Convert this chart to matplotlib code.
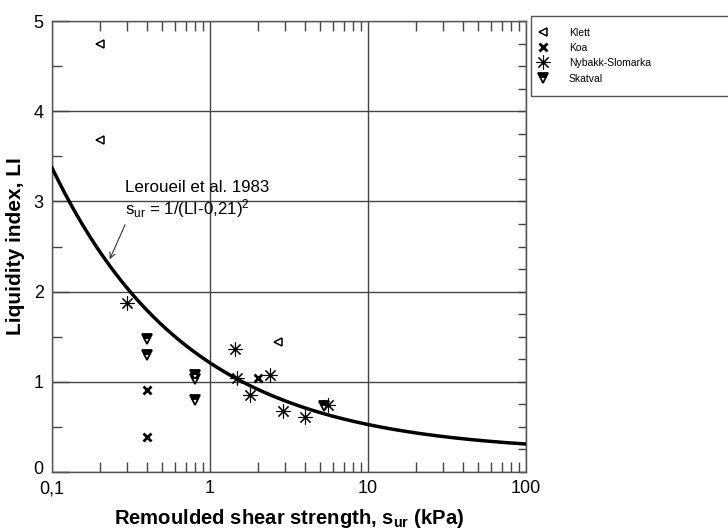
import numpy as np
import matplotlib
matplotlib.use("Agg")
import matplotlib.pyplot as plt
import matplotlib.transforms as mtransforms
from matplotlib.ticker import NullFormatter, MultipleLocator, LogLocator
from matplotlib.patches import Rectangle

plt.rcParams['font.family'] = ['Liberation Sans', 'DejaVu Sans']
plt.rcParams['mathtext.fontset'] = 'custom'
plt.rcParams['mathtext.rm'] = 'Liberation Sans'
plt.rcParams['mathtext.it'] = 'Liberation Sans'
plt.rcParams['mathtext.bf'] = 'Liberation Sans:bold'

# Data
klett_s = [0.2, 0.2, 2.7]
klett_li = [4.75, 3.68, 1.44]
koa_s = [0.4, 0.4, 2.0]
koa_li = [0.91, 0.39, 1.04]
nyb_s = [0.3, 1.45, 1.48, 1.8, 2.4, 2.9, 4.0, 5.6]
nyb_li = [1.87, 1.36, 1.04, 0.85, 1.07, 0.68, 0.61, 0.74]
skat_s = [0.4, 0.4, 0.8, 0.8, 0.8, 5.3]
skat_li = [1.47, 1.30, 1.08, 1.03, 0.80, 0.73]

curve_s = np.logspace(-1, 2, 300)
curve_li = 0.21 + 1 / np.sqrt(curve_s)

W, H = 728, 531
fig = plt.figure(figsize=(W/100, H/100), dpi=100)
L, R, T, B = 52, 526, 21, 472
ax = fig.add_axes([L/W, 1 - B/H, (R-L)/W, (B-T)/H])

ax.plot(curve_s, curve_li, color='black', lw=2.5, zorder=3)

ax.plot(klett_s, klett_li, ls='none', marker='<', ms=6, mfc='white', mec='black', mew=1.1, label='Klett', zorder=4)
ax.plot(koa_s, koa_li, ls='none', marker='x', ms=6, mec='black', mew=2.0, label='Koa', zorder=4)
ax.plot(nyb_s, nyb_li, ls='none', marker=(8, 2, 0), ms=10, mec='black', mew=0.8, label='Nybakk-Slomarka', zorder=4)
ax.plot(skat_s, skat_li, ls='none', marker='v', ms=7.5, mfc='black', mec='black', fillstyle='top',
        markerfacecoloralt='white', mew=1.3, label='Skatval', zorder=4)

ax.set_xscale('log')
ax.set_xlim(0.1, 100)
ax.set_ylim(0, 5)
ax.set_xticks([0.1, 1, 10, 100])
ax.set_xticklabels(['0,1', '1', '10', '100'])
ax.xaxis.set_minor_locator(LogLocator(base=10, subs=np.arange(2, 10)))
ax.xaxis.set_minor_formatter(NullFormatter())
ax.set_yticks([0, 1, 2, 3, 4, 5])
ax.yaxis.set_minor_locator(MultipleLocator(0.5))

ax.grid(True, which='major', color='#444444', lw=1.0)
ax.set_axisbelow(True)
for s in ax.spines.values():
    s.set_color('#555555')
    s.set_linewidth(1.0)

ax.tick_params(which='both', direction='in', top=True, right=False, labelsize=13, colors='black', pad=4)
ax.tick_params(which='major', length=0, width=1.0)
ax.tick_params(which='minor', length=7, width=1.0, color='#444444')
ax.tick_params(axis='y', which='major', length=12, color='#444444', pad=6)
ax.tick_params(axis='x', which='major', pad=6)

# nudge the "0" label upward as in the reference
zero_lbl = ax.get_yticklabels()[0]
zero_lbl.set_transform(zero_lbl.get_transform() +
                       mtransforms.ScaledTranslation(0, 5/100, fig.dpi_scale_trans))

sec = ax.secondary_yaxis('right')
sec.yaxis.set_major_locator(MultipleLocator(0.25))
sec.yaxis.set_major_formatter(NullFormatter())
sec.tick_params(direction='in', length=6, width=1.0, color='#444444')
sec.spines['right'].set_color('#555555')

ax.set_xlabel('Remoulded shear strength, $\\mathbf{s_{ur}}$ (kPa)', fontsize=14.6, fontweight='bold', labelpad=7)
ax.set_ylabel('Liquidity index, LI', fontsize=15, fontweight='bold', labelpad=6)

ax.text(0.29, 3.10, 'Leroueil et al. 1983', fontsize=12.2, ha='left', va='baseline', zorder=5)
ax.text(0.29, 2.86, '$\\mathrm{s_{ur}}$ = 1/(LI-0,21)$^2$', fontsize=12.2, ha='left', va='baseline', zorder=5)
ax.annotate('', xy=(0.228, 2.33), xytext=(0.295, 2.77),
            arrowprops=dict(arrowstyle='->', color='#333333', lw=0.8))

# Legend box (frame drawn separately, runs off the right edge like the reference)
fig.patches.append(Rectangle((531/W, 1 - 96/H), 220/W, 80/H, transform=fig.transFigure,
                             fill=False, edgecolor='#555555', lw=1.0))
leg = fig.legend(loc='upper left', bbox_to_anchor=(535/W, 1 - 28/H), fontsize=7.5,
                 frameon=False, borderpad=0, borderaxespad=0, markerscale=1.0,
                 handlelength=1.5, handletextpad=1.77, labelspacing=0.5, handleheight=0.9)

fig.savefig('out.png', dpi=100)
